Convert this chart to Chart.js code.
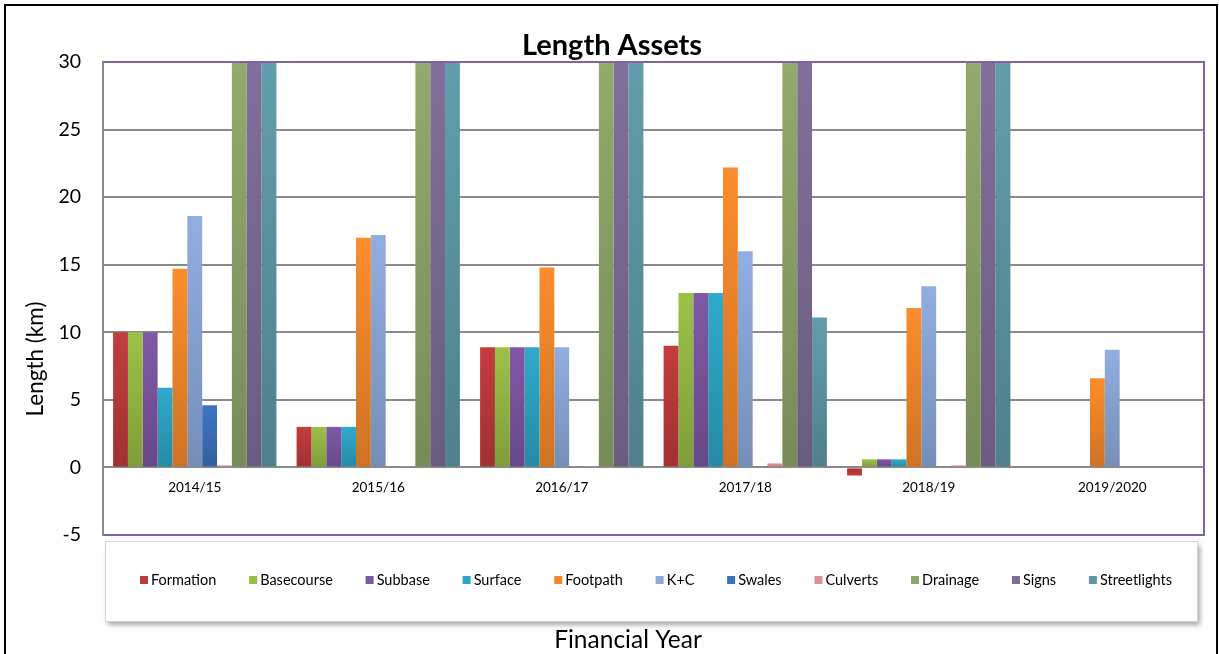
<!DOCTYPE html>
<html>
<head>
<meta charset="utf-8">
<script src="https://cdn.jsdelivr.net/npm/chart.js@4.4.1/dist/chart.umd.min.js"></script>
<style>
html,body{margin:0;padding:0;background:#fff;overflow:hidden}
#wrap{position:relative;width:1219px;height:654px}
</style>
</head>
<body>
<div id="wrap"><canvas id="c" width="1219" height="654"></canvas></div>
<script>
// ---- data ----
const categories = ['2014/15', '2015/16', '2016/17', '2017/18', '2018/19', '2019/2020'];
const seriesNames = ['Formation', 'Basecourse', 'Subbase', 'Surface', 'Footpath', 'K+C', 'Swales', 'Culverts', 'Drainage', 'Signs', 'Streetlights'];
const formation    = [10, 3, 8.9, 9.0, -0.6, 0];
const basecourse   = [10, 3, 8.9, 12.9, 0.6, 0];
const subbase      = [10, 3, 8.9, 12.9, 0.6, 0];
const surface      = [5.9, 3, 8.9, 12.9, 0.6, 0];
const footpath     = [14.7, 17.0, 14.8, 22.2, 11.8, 6.6];
const kc           = [18.6, 17.2, 8.9, 16.0, 13.4, 8.7];
const swales       = [4.6, 0, 0, 0, 0, 0];
const culverts     = [0.15, 0.1, 0.1, 0.3, 0.15, 0];
const drainage     = [40, 40, 40, 40, 40, 0];
const signs        = [40, 40, 40, 40, 40, 0];
const streetlights = [40, 40, 40, 11.1, 40, 0];
const yTicks = { min: -5, max: 30, step: 5 };
const chartTitle = 'Length Assets';
const xTitle = 'Financial Year';
const yTitle = 'Length (km)';

// ---- styles ----
const palette = ['#BE3A3C', '#97BB45', '#7B56A1', '#2FA4C5', '#F5892B', '#8DA9DA', '#3A72BE', '#E09090', '#8EA56A', '#7D6D96', '#5E98A7'];
const FONT = 'Lato, "Open Sans", sans-serif';

function shade(hex, f) {
  const n = parseInt(hex.slice(1), 16);
  let r = (n >> 16) & 255, g = (n >> 8) & 255, b = n & 255;
  r = Math.round(r * f); g = Math.round(g * f); b = Math.round(b * f);
  return `rgb(${Math.min(255,r)},${Math.min(255,g)},${Math.min(255,b)})`;
}

const seriesValues = [formation, basecourse, subbase, surface, footpath, kc, swales, culverts, drainage, signs, streetlights];

const datasets = seriesNames.map((name, i) => ({
  label: name,
  data: seriesValues[i],
  backgroundColor: (ctx) => {
    const base = palette[i];
    const chart = ctx.chart;
    if (ctx.type !== 'data' || !chart.chartArea || !chart.scales.y) return base;
    const ys = chart.scales.y;
    const v = ctx.parsed ? ctx.parsed.y : 0;
    const top = ys.getPixelForValue(Math.max(Math.min(v, yTicks.max), yTicks.min));
    const bot = ys.getPixelForValue(0);
    if (Math.abs(top - bot) < 1) return base;
    const g = chart.ctx.createLinearGradient(0, top, 0, bot);
    g.addColorStop(0, shade(base, 1.03));
    g.addColorStop(1, shade(base, 0.84));
    return g;
  },
  borderWidth: 0,
  categoryPercentage: 0.89,
  barPercentage: 1.0
}));

const deco = {
  id: 'deco',
  beforeDraw(chart) {
    const c = chart.ctx;
    c.save();
    c.fillStyle = '#fff';
    c.fillRect(0, 0, chart.width, chart.height);
    c.restore();
  },
  afterDraw(chart) {
    const c = chart.ctx;
    const a = chart.chartArea;
    c.save();
    // purple plot border (top, right, bottom)
    c.strokeStyle = '#8064A2';
    c.lineWidth = 2;
    c.beginPath();
    c.moveTo(a.left, a.top);
    c.lineTo(a.right, a.top);
    c.lineTo(a.right, a.bottom);
    c.lineTo(a.left, a.bottom);
    c.stroke();
    // left axis line (gray)
    c.strokeStyle = '#8a8a8a';
    c.beginPath();
    c.moveTo(a.left, a.top);
    c.lineTo(a.left, a.bottom);
    c.stroke();

    // title
    c.fillStyle = '#000';
    c.font = 'bold 29px ' + FONT;
    c.textAlign = 'center';
    c.textBaseline = 'middle';
    c.fillText(chartTitle, 612, 46);

    // y axis title
    c.save();
    c.translate(36, 359);
    c.rotate(-Math.PI / 2);
    c.font = '22.5px ' + FONT;
    c.fillText(yTitle, 0, 0);
    c.restore();

    // legend box with shadow
    const lx = 105, ly = 541, lw = 1092, lh = 80;
    c.save();
    c.shadowColor = 'rgba(0,0,0,0.35)';
    c.shadowBlur = 5;
    c.shadowOffsetX = 3;
    c.shadowOffsetY = 4;
    c.fillStyle = '#fff';
    c.fillRect(lx, ly, lw, lh);
    c.restore();
    c.strokeStyle = '#d4d4d4';
    c.lineWidth = 1;
    c.strokeRect(lx + 0.5, ly + 0.5, lw, lh);

    // legend items
    c.font = '14.5px ' + FONT;
    c.textAlign = 'left';
    c.textBaseline = 'middle';
    const sq = 8, tg = 3;
    const widths = seriesNames.map(n => sq + tg + c.measureText(n).width);
    const sum = widths.reduce((s, w) => s + w, 0);
    const startX = 140, endX = 1172;
    const gap = (endX - startX - sum) / (seriesNames.length - 1);
    let x = startX;
    const cy = 580;
    seriesNames.forEach((n, i) => {
      c.fillStyle = palette[i];
      c.fillRect(x, cy - sq / 2, sq, sq);
      c.fillStyle = '#000';
      c.fillText(n, x + sq + tg, cy + 0.5);
      x += widths[i] + gap;
    });

    // x axis title
    c.font = '24.5px ' + FONT;
    c.textAlign = 'center';
    c.fillText(xTitle, 628, 640);

    // outer frame
    c.strokeStyle = '#000';
    c.lineWidth = 2;
    c.strokeRect(5, 5, 1212, 700);
    c.restore();
  }
};

new Chart(document.getElementById('c'), {
  type: 'bar',
  data: { labels: categories, datasets },
  plugins: [deco],
  options: {
    responsive: false,
    devicePixelRatio: 1,
    animation: false,
    layout: { padding: { left: 5, top: 62, right: 15, bottom: 119 } },
    plugins: {
      legend: { display: false },
      title: { display: false },
      tooltip: { enabled: false }
    },
    scales: {
      x: {
        position: { y: 0 },
        offset: true,
        grid: { display: false, drawTicks: false },
        border: { display: true, color: '#8a8a8a', width: 2 },
        ticks: { color: '#000', font: { family: FONT, size: 13.5 }, padding: 12, maxRotation: 0, autoSkip: false }
      },
      y: {
        min: yTicks.min,
        max: yTicks.max,
        ticks: { stepSize: yTicks.step, color: '#000', font: { family: FONT, size: 19.5 }, padding: 22 },
        grid: { color: '#8a8a8a', lineWidth: 2, drawTicks: false },
        border: { display: true, color: '#8a8a8a', width: 2 },
        title: { display: false },
        afterFit(s) { s.width = 98; }
      }
    }
  }
});
</script>
</body>
</html>
